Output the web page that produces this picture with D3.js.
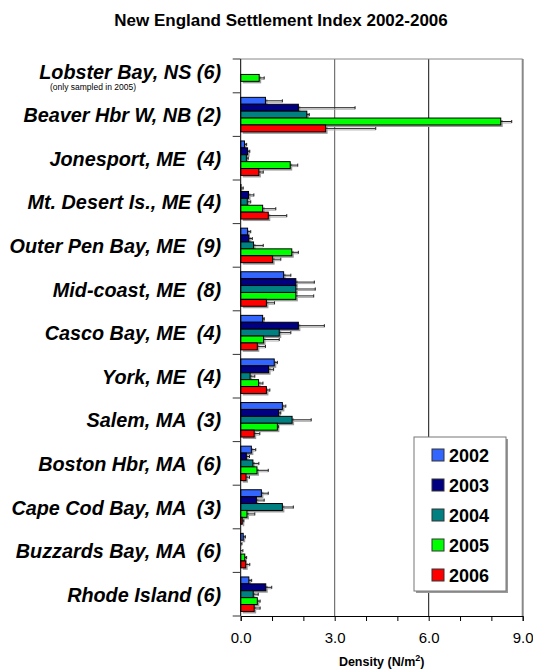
<!DOCTYPE html>
<html lang="en">
<head>
  <meta charset="UTF-8" />
  <title>New England Settlement Index 2002-2006</title>
  <script src="https://d3js.org/d3.v7.min.js"></script>
  <style>
    body { margin: 0; background: #fff; font-family: "Liberation Sans", Arial, sans-serif; }
    svg { display: block; }
    .site { font-weight: bold; font-style: italic; font-size: 19.8px; }
  </style>
</head>
<body>
<script>
const sites = [
  'Lobster Bay, NS (6)', 'Beaver Hbr W, NB (2)', 'Jonesport, ME  (4)', 'Mt. Desert Is., ME (4)',
  'Outer Pen Bay, ME  (9)', 'Mid-coast, ME  (8)', 'Casco Bay, ME  (4)', 'York, ME  (4)',
  'Salem, MA  (3)', 'Boston Hbr, MA  (6)', 'Cape Cod Bay, MA  (3)', 'Buzzards Bay, MA  (6)',
  'Rhode Island (6)'
];
const years = ['2002', '2003', '2004', '2005', '2006'];
const colors = ['#3366ff', '#000080', '#008080', '#00ff00', '#ff0000'];

// mean density per site, one array per year (null = not sampled)
const d2002 = [null, 0.79, 0.12, 0.01, 0.22, 1.37, 0.70, 1.07, 1.33, 0.34, 0.66, 0.08, 0.26];
const d2003 = [null, 1.84, 0.22, 0.25, 0.26, 1.76, 1.84, 0.89, 1.21, 0.18, 0.50, 0.00, 0.80];
const d2004 = [null, 2.11, 0.18, 0.21, 0.41, 1.76, 1.23, 0.30, 1.64, 0.39, 1.33, 0.00, 0.40];
const d2005 = [0.59, 8.30, 1.58, 0.70, 1.63, 1.76, 0.73, 0.57, 1.17, 0.52, 0.20, 0.13, 0.53];
const d2006 = [null, 2.71, 0.58, 0.88, 1.02, 0.82, 0.53, 0.82, 0.43, 0.17, 0.05, 0.16, 0.43];

// standard error (upper arm only)
const e2002 = [null, 0.54, 0.07, 0.07, 0.10, 0.23, 0.05, 0.10, 0.11, 0.14, 0.22, 0.07, 0.09];
const e2003 = [null, 1.81, 0.07, 0.17, 0.11, 0.59, 0.83, 0.16, 0.07, 0.10, 0.25, 0.04, 0.19];
const e2004 = [null, 0.08, 0.06, 0.11, 0.31, 0.62, 0.37, 0.15, 0.61, 0.19, 0.35, 0.07, 0.16];
const e2005 = [0.16, 0.35, 0.24, 0.42, 0.21, 0.57, 0.50, 0.14, 0.04, 0.36, 0.25, 0.06, 0.09];
const e2006 = [null, 1.60, 0.14, 0.59, 0.26, 0.26, 0.26, 0.11, 0.18, 0.11, 0.05, 0.13, 0.19];

const xTicks = [0, 3, 6, 9];

const means = [d2002, d2003, d2004, d2005, d2006];
const errs = [e2002, e2003, e2004, e2005, e2006];
const rows = [];
sites.forEach((s, i) => years.forEach((y, j) => {
  if (means[j][i] !== null) rows.push({ site: s, year: y, v: means[j][i], e: errs[j][i], c: colors[j] });
}));

const W = 533, H = 669;
const pLeft = 240.7, pRight = 522.7, pTop = 59, pBottom = 616;

const svg = d3.select("body").append("svg").attr("width", W).attr("height", H);

const x = d3.scaleLinear().domain([0, 9]).range([pLeft, pRight]);
const y = d3.scaleBand().domain(sites).range([pBottom - sites.length * 43.6, pBottom]);
const yy = d3.scaleBand().domain(years).range([0, y.bandwidth()]).paddingOuter(0.66);

svg.append("text")
  .attr("x", 281).attr("y", 26)
  .attr("text-anchor", "middle")
  .style("font-weight", "bold").style("font-size", "17px")
  .text("New England Settlement Index 2002-2006");

svg.append("defs").append("clipPath").attr("id", "plot")
  .append("rect").attr("x", pLeft - 10).attr("y", pTop).attr("width", pRight - pLeft + 40).attr("height", pBottom - pTop);

// gridlines + frame
svg.selectAll(".grid").data([3, 6]).join("line")
  .attr("x1", d => x(d)).attr("x2", d => x(d))
  .attr("y1", pTop).attr("y2", pBottom)
  .attr("stroke", (d, i) => i ? "#111" : "#555").attr("stroke-width", 1);
svg.append("line").attr("x1", pLeft).attr("x2", pRight).attr("y1", pTop).attr("y2", pTop)
  .attr("stroke", "#888");
svg.append("line").attr("x1", pRight).attr("x2", pRight).attr("y1", pTop).attr("y2", pBottom)
  .attr("stroke", "#888").attr("stroke-width", 2);

const g = svg.append("g").attr("clip-path", "url(#plot)");

// shadows
g.selectAll(".shadow").data(rows).join("rect")
  .attr("x", x(0) + 2)
  .attr("y", d => y(d.site) + yy(d.year) + 2)
  .attr("width", d => x(d.v) - x(0))
  .attr("height", yy.bandwidth())
  .attr("fill", "#9a9a9a");

// error bars
const errG = g.selectAll(".err").data(rows).join("g");
errG.append("line")
  .attr("x1", d => x(d.v)).attr("x2", d => x(d.v + d.e))
  .attr("y1", d => y(d.site) + yy(d.year) + yy.bandwidth() / 2 + 1.5)
  .attr("y2", d => y(d.site) + yy(d.year) + yy.bandwidth() / 2 + 1.5)
  .attr("stroke", "#aaa");
errG.append("line")
  .attr("x1", d => x(d.v)).attr("x2", d => x(d.v + d.e))
  .attr("y1", d => y(d.site) + yy(d.year) + yy.bandwidth() / 2)
  .attr("y2", d => y(d.site) + yy(d.year) + yy.bandwidth() / 2)
  .attr("stroke", "#222");
errG.append("line")
  .attr("x1", d => x(d.v + d.e)).attr("x2", d => x(d.v + d.e))
  .attr("y1", d => y(d.site) + yy(d.year) + yy.bandwidth() / 2 - 1.5)
  .attr("y2", d => y(d.site) + yy(d.year) + yy.bandwidth() / 2 + 1.5)
  .attr("stroke", "#222");

// bars
g.selectAll(".bar").data(rows).join("rect")
  .attr("x", x(0))
  .attr("y", d => y(d.site) + yy(d.year))
  .attr("width", d => x(d.v) - x(0))
  .attr("height", yy.bandwidth())
  .attr("fill", d => d.c)
  .attr("stroke", "#000").attr("stroke-width", 1);

// y axis with ticks on category boundaries
svg.append("line").attr("x1", pLeft).attr("x2", pLeft).attr("y1", pTop).attr("y2", pBottom)
  .attr("stroke", "#000");
const yTickPos = sites.slice(1).map(s => y(s)).concat([pBottom, pTop]);
svg.selectAll(".ytick").data(yTickPos).join("line")
  .attr("x1", pLeft - 8).attr("x2", pLeft).attr("y1", d => d).attr("y2", d => d)
  .attr("stroke", "#333");

svg.selectAll(".site").data(sites).join("text")
  .attr("class", "site")
  .attr("x", 221)
  .attr("y", d => y(d) + y.bandwidth() / 2 + 7.5)
  .attr("text-anchor", "end")
  .attr("xml:space", "preserve")
  .style("white-space", "pre")
  .text(d => d);

svg.append("text")
  .attr("x", 93).attr("y", y(sites[0]) + y.bandwidth() / 2 + 19)
  .attr("text-anchor", "middle")
  .style("font-size", "8.5px")
  .text("(only sampled in 2005)");

// x axis
const xAxis = d3.axisBottom(x).tickValues(d3.range(0, 10)).tickSize(5).tickFormat(d => xTicks.includes(d) ? d.toFixed(1) : "");
const xa = svg.append("g").attr("transform", `translate(0,${pBottom})`).call(xAxis);
xa.select(".domain").attr("stroke", "#000");
xa.selectAll("text").style("font-size", "15px").style("font-family", "Liberation Sans, Arial, sans-serif")
  .attr("dy", "1.25em");

const at = svg.append("text")
  .attr("x", x(4.5)).attr("y", 666)
  .attr("text-anchor", "middle")
  .style("font-weight", "bold").style("font-size", "12.5px");
at.append("tspan").text("Density (N/m");
at.append("tspan").attr("dy", -5).style("font-size", "9px").text("2");
at.append("tspan").attr("dy", 5).text(")");

// legend
const lg = svg.append("g").attr("transform", "translate(414,437)");
lg.append("rect").attr("x", 2).attr("y", 2).attr("width", 92).attr("height", 154).attr("fill", "#999");
lg.append("rect").attr("width", 92).attr("height", 154).attr("fill", "#fff").attr("stroke", "#777");
const li = lg.selectAll(".li").data(years).join("g")
  .attr("transform", (d, i) => `translate(0,${18 + i * 30})`);
li.append("rect").attr("x", 18).attr("y", -6).attr("width", 12).attr("height", 12)
  .attr("fill", (d, i) => colors[i]).attr("stroke", "#333");
li.append("text").attr("x", 35).attr("y", 6.5)
  .style("font-weight", "bold").style("font-size", "18px")
  .text(d => d);
</script>
</body>
</html>
